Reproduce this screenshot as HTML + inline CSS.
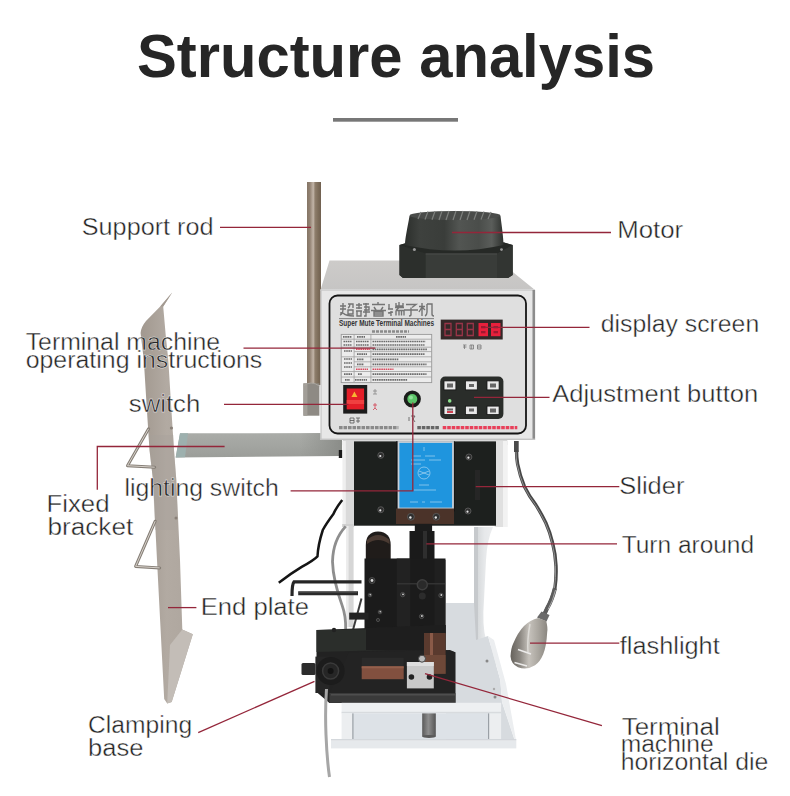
<!DOCTYPE html>
<html><head><meta charset="utf-8"><style>
html,body{margin:0;padding:0;background:#fff;width:790px;height:796px;overflow:hidden}
svg{display:block}
.t{font-family:"Liberation Sans",sans-serif;font-size:23px;fill:#262626;stroke:#fff;stroke-width:0.45px;stroke-opacity:0.9}
.ln{stroke:#94263a;stroke-width:1.3;fill:none}
.cj{fill:none;stroke:#747474;stroke-width:1.4}
.sm{fill:none;stroke:#555;stroke-width:0.8}
</style></head><body>
<svg width="790" height="796" viewBox="0 0 790 796">
<defs>
<linearGradient id="rod" x1="0" x2="1" y1="0" y2="0">
<stop offset="0" stop-color="#857565"/><stop offset="0.2" stop-color="#918172"/><stop offset="0.45" stop-color="#c2b5a8"/><stop offset="0.58" stop-color="#8e7e6c"/><stop offset="0.8" stop-color="#7d6d5a"/><stop offset="1" stop-color="#706050"/>
</linearGradient>
<linearGradient id="motor" x1="0" x2="1" y1="0" y2="0">
<stop offset="0" stop-color="#2c2f2c"/><stop offset="0.15" stop-color="#3e413e"/><stop offset="0.4" stop-color="#3a3d3a"/><stop offset="0.55" stop-color="#525552"/><stop offset="0.75" stop-color="#4a4d4a"/><stop offset="0.88" stop-color="#5a5d5a"/><stop offset="1" stop-color="#2e312e"/>
</linearGradient>
<linearGradient id="plate" x1="0" x2="1" y1="0" y2="0">
<stop offset="0" stop-color="#a1988f"/><stop offset="0.5" stop-color="#b2aaa2"/><stop offset="1" stop-color="#aea69e"/>
</linearGradient>
<linearGradient id="bar" x1="0" x2="0" y1="0" y2="1">
<stop offset="0" stop-color="#aaaca8"/><stop offset="0.5" stop-color="#a3a5a1"/><stop offset="1" stop-color="#9b9d99"/>
</linearGradient>
<linearGradient id="bardark" x1="0" x2="1" y1="0" y2="0"><stop offset="0" stop-color="#8e908c" stop-opacity="0"/><stop offset="1" stop-color="#8a8c88" stop-opacity="1"/></linearGradient>
<linearGradient id="lamp" x1="0" x2="1" y1="0" y2="0">
<stop offset="0" stop-color="#66625c"/><stop offset="0.25" stop-color="#8a8680"/><stop offset="0.5" stop-color="#c6c2bc"/><stop offset="0.75" stop-color="#aaa69f"/><stop offset="1" stop-color="#8a8680"/>
</linearGradient>
<linearGradient id="post" x1="0" x2="1" y1="0" y2="0">
<stop offset="0" stop-color="#5a5a5a"/><stop offset="0.45" stop-color="#8e8e8e"/><stop offset="1" stop-color="#555"/>
</linearGradient>
<linearGradient id="boxtop" x1="0" x2="0" y1="0" y2="1">
<stop offset="0" stop-color="#cdcbc9"/><stop offset="1" stop-color="#c6c5c4"/>
</linearGradient>
<linearGradient id="rcol" x1="0" x2="1" y1="0" y2="0">
<stop offset="0" stop-color="#cfd2d4"/><stop offset="0.4" stop-color="#e6e8ea"/><stop offset="1" stop-color="#f0f1f2"/>
</linearGradient>
</defs>
<rect width="790" height="796" fill="#fff"/>

<!-- Title -->
<text x="137" y="77" style="font-family:'Liberation Sans',sans-serif;font-weight:bold;font-size:62px;fill:#262626" textLength="518" lengthAdjust="spacingAndGlyphs">Structure analysis</text>
<rect x="333" y="118" width="125" height="3.7" fill="#777"/>

<!-- ===== MACHINE ===== -->
<g id="machine">
<!-- support rod -->
<rect x="307" y="182" width="14" height="203" fill="url(#rod)"/>
<rect x="303.4" y="383.4" width="16" height="32.3" fill="#8e8a84"/>
<rect x="303.4" y="383.4" width="4" height="32.3" fill="#a29e98"/>
<path d="M303.4,386 Q311,380 319.4,386" fill="none" stroke="#a8a49e" stroke-width="1"/>

<!-- fixed bracket bar -->
<polygon points="180,433.3 342,433 342,456 175.7,457.5" fill="url(#bar)"/>
<polygon points="180,433.3 188,433.3 185,457.3 175.7,457.5" fill="#9db0ae"/>
<rect x="300" y="433" width="42" height="23" fill="url(#bardark)"/>
<rect x="338.8" y="450" width="3.4" height="8" fill="#1a1a1a"/>

<!-- end plate -->
<path d="M140.6,333 Q141,327 146,321 L160.2,306.6 L172.2,292.5 L163.2,306.6 L165.7,335 L168.3,360 L171.4,410 L174,450 L176.3,480 L180,560 L182.3,629.6 L192.8,634.2 L171.7,702 L167.2,703.4 L164.2,699 L157,560 L153,480 L149.5,450 L146.9,410 L143.8,360 Z" fill="url(#plate)"/>
<polygon points="148.8,435 173.3,435 174,450 176.3,480 178,530 155,530 153,480 149.5,450" fill="#a7a19b" opacity="0.35"/>
<polygon points="182.3,629.6 192.8,634.2 171.7,702 167.2,703.4 170,645" fill="#c3bdb7"/>
<polygon points="172.2,292.5 163.2,306.6 160.2,306.6" fill="#a39a91"/>
<circle cx="171.4" cy="428" r="1.6" fill="#8a8078"/>
<circle cx="176" cy="518" r="1.5" fill="#8a8078"/>
<!-- wire handles -->
<polyline points="148.6,428.8 127.5,465.7 154.7,467.2" fill="none" stroke="#857e76" stroke-width="3" stroke-linejoin="round" stroke-linecap="round"/>
<polyline points="148.6,428.8 127.5,465.7 154.7,467.2" fill="none" stroke="#d6d0c9" stroke-width="1" stroke-linejoin="round"/>
<polyline points="155.2,521.2 135.6,566.4 159.7,567.9" fill="none" stroke="#857e76" stroke-width="3" stroke-linejoin="round" stroke-linecap="round"/>
<polyline points="155.2,521.2 135.6,566.4 159.7,567.9" fill="none" stroke="#d6d0c9" stroke-width="1" stroke-linejoin="round"/>

<!-- box top & front -->
<polygon points="329.5,260.5 500,260.5 513.4,272.4 535,290 320.5,290" fill="url(#boxtop)"/>
<rect x="320.5" y="289.5" width="214.5" height="150.5" fill="#e7e7e7"/>
<rect x="320.5" y="289.5" width="214.5" height="1.5" fill="#d2d2d2"/>
<rect x="532.5" y="290" width="2.6" height="150" fill="#8c8c8c"/>
<rect x="320.5" y="290" width="1.2" height="150" fill="#c8c8c8"/>
<rect x="320.5" y="438.6" width="214.5" height="1.4" fill="#c4c4c4"/>
<rect x="329.5" y="295.5" width="196.5" height="138" rx="8" fill="#dfdfdf" stroke="#151515" stroke-width="1.8"/>

<!-- motor -->
<polygon points="399.5,245 408,242.5 504,242.5 512.7,245 512.7,275 508,278 403,278 399.5,275" fill="#2a2d2a"/>
<polygon points="399.5,245 408,242.5 504,242.5 512.7,245 497,253.5 425.6,253.5" fill="#262926"/>
<polygon points="399.5,245 425.6,253.5 425.6,278 403,278 399.5,275" fill="#2c2f2c"/>
<rect x="425.6" y="253.5" width="71.4" height="24.5" fill="#393c39"/>
<rect x="425.6" y="253.5" width="71.4" height="1" fill="#4a4d4a"/>
<polygon points="497,253.5 512.7,245 512.7,275 508,278 497,278" fill="#323532"/>
<path d="M409.5,216 C407.5,228 405,238 405,245 Q455,256 503.5,245 C503.5,238 502,228 500.5,216 Z" fill="url(#motor)"/>
<ellipse cx="455" cy="215.5" rx="45.5" ry="4.6" fill="#4a4c4a"/>
<g stroke="#7e807e" stroke-width="1.2">
<line x1="418" y1="219" x2="421" y2="212"/><line x1="425" y1="219.5" x2="428" y2="211.5"/><line x1="432" y1="219.8" x2="435" y2="211.3"/><line x1="439" y1="220" x2="442" y2="211"/><line x1="446" y1="220" x2="449" y2="211"/><line x1="453" y1="220" x2="456" y2="211"/><line x1="460" y1="220" x2="463" y2="211"/><line x1="467" y1="220" x2="470" y2="211"/><line x1="474" y1="219.8" x2="477" y2="211.3"/><line x1="481" y1="219.5" x2="484" y2="211.5"/><line x1="488" y1="219" x2="491" y2="212"/>
</g>
<circle cx="414.4" cy="249.6" r="1.5" fill="#9a9a9a"/><circle cx="501.5" cy="249.6" r="1.4" fill="#9a9a9a"/>

<!-- panel title (chinese-like strokes) -->
<g class="cj">
<path d="M340,306 h6 M343,303 v6 M340,309 h6 M341,312 v3 M343,309 q0,5 -3,6 M343,313 q3,3 11,3 M348,304 h5 v4 M350,304 q0,3 -2,4 M348,310 h5 v4 h-5 z"/>
<path d="M356,305 h6 M356,308 h6 M356,311 h6 M359,303 v6 M357,311 v5 h4 v-5 M363,304 h6 M364,307 h5 v3 h-5 M366,303 v13 l-2,0 M363,312 h7"/>
<path d="M378,302 v2 M372,304.5 h13 M374,307 l2,3 M383,307 l-2,3 M371,310.5 h15 M374,312 h9 v4 h-9 z M374,314 h9"/>
<path d="M389,304 v5 M388,309 h5 M391,311 v5 M388,313 l5,-1 M396,303 v3 h7 v-3 M399,302 v4 M395,307.5 h9 M399,307.5 l-3,3 M396,310.5 v5 M396,310.5 h8 v5 M399,310.5 v5 M401.5,310.5 v5"/>
<path d="M406,304.5 h10 l-4,3 M411,307.5 v7 q0,1.5 -2,1.5 M404,310 h14"/>
<path d="M422,303 v13 M419,306.5 h6 M422,307 l-3,5 M422,307 l3,3 M427,304 h5 v10 q0,2 2,2 M427,304 v8 q0,3 -2,4"/>
</g>
<text x="339" y="325.8" style="font-family:'Liberation Sans',sans-serif;font-size:8.5px;font-weight:bold;fill:#333" textLength="95" lengthAdjust="spacingAndGlyphs">Super Mute Terminal Machines</text>
<rect x="339" y="318.3" width="95" height="0.8" fill="#666"/>

<!-- table -->
<line x1="372" y1="331.5" x2="409" y2="331.5" stroke="#8a8a8a" stroke-width="2.4" stroke-dasharray="3 1"/>
<rect x="341.2" y="334.4" width="90.5" height="48.2" fill="#ececec" stroke="#999" stroke-width="0.9"/>
<g stroke="#a0a0a0" stroke-width="0.8">
<line x1="354.1" y1="334.4" x2="354.1" y2="382.6"/><line x1="370.9" y1="334.4" x2="370.9" y2="382.6"/>
<line x1="341.2" y1="339.2" x2="431.7" y2="339.2"/><line x1="341.2" y1="347.2" x2="431.7" y2="347.2"/><line x1="354.1" y1="351.6" x2="431.7" y2="351.6"/><line x1="341.2" y1="356.8" x2="431.7" y2="356.8"/><line x1="354.1" y1="361.8" x2="431.7" y2="361.8"/><line x1="354.1" y1="366.8" x2="431.7" y2="366.8"/><line x1="341.2" y1="371.5" x2="431.7" y2="371.5"/><line x1="341.2" y1="377" x2="431.7" y2="377"/>
</g>
<g stroke="#6a6a6a" stroke-width="1.7" stroke-dasharray="1.6 0.6" fill="none">
<path d="M343,336.8 h9 M357,336.8 h8 M396,336.8 h10"/>
<path d="M343.5,341.5 h8 M343.5,345 h8 M356,341.5 h13 M356,345 h13 M372.5,341.5 h53 M372.5,345 h52"/>
<path d="M344,351 h8 M372.5,349.3 h55 M357,354.2 h10 M372.5,354.2 h52"/>
<path d="M344,359 h8 M344,363 h8 M344,367 h8 M357,359.3 h7 M372.5,359.3 h26 M357,364.3 h7 M372.5,364.3 h54"/>
<path d="M344,374.2 h8 M358,374.2 h4 M372.5,374.2 h54"/>
<path d="M345,379.8 h5 M355,379.8 h12 M372.5,379.8 h35"/>
</g>
<g stroke="#d84a5e" stroke-width="1.6" stroke-dasharray="1.6 0.6" fill="none">
<path d="M356,349.3 h14 M356,369.2 h12 M372.5,369.2 h21"/>
</g>

<!-- switch -->
<rect x="343.2" y="385" width="24" height="28.6" fill="#1c1c1c"/>
<rect x="346.7" y="388.5" width="17.4" height="20.9" fill="#e31e28"/>
<rect x="346.7" y="400" width="17.4" height="4" fill="#f04040"/>
<polygon points="354.4,391.5 357.4,397 351.4,397" fill="#f7b432"/>
<g class="sm" stroke="#444"><path d="M350,418 h4 v5 h-4 z M350,420.5 h4 M356,418 h4 M358,418 v5 M356,421 h4"/></g>
<g stroke="#888" stroke-width="0.8" fill="none"><path d="M373,391 h4 M375,389 v5 M373,394 h4"/></g>
<g stroke="#d04050" stroke-width="0.8" fill="none"><path d="M373,405 h4 M375,403 v5 l-2,2 M375,408 l2,2"/></g>

<!-- green button -->
<circle cx="412.3" cy="399" r="8.6" fill="#1a1c1a"/>
<circle cx="412.3" cy="399" r="5" fill="#5cc468"/>
<circle cx="411" cy="397.5" r="2" fill="#8ee098"/>
<g class="sm" stroke="#555"><path d="M409,417 v4 M411,416 h4 l-2,3 l2,3"/></g>

<!-- display -->
<rect x="440.7" y="319.6" width="62" height="19.9" fill="#332828"/>
<g fill="none" stroke="#9a3448" stroke-width="1.3">
<path d="M445,323.5 h6 v12 h-6 z M445,329.5 h6"/>
<path d="M456.3,323.5 h6 v12 h-6 z M456.3,329.5 h6"/>
<path d="M467.3,323.5 h6 v12 h-6 z M467.3,329.5 h6"/>
</g>
<rect x="478.5" y="323" width="9.5" height="13.2" fill="#e8203c"/>
<rect x="491" y="323" width="9.5" height="13.2" fill="#e8203c"/>
<g fill="#a01830"><rect x="481" y="326" width="4.5" height="2.3"/><rect x="481" y="331" width="4.5" height="2.3"/><rect x="493.5" y="326" width="4.5" height="2.3"/><rect x="493.5" y="331" width="4.5" height="2.3"/></g>
<g fill="none" stroke="#777" stroke-width="0.8"><path d="M463,345 h3.5 M464.5,345 v4 M463,347 h3.5 M470,345 h3.5 v4 h-3.5 z M471.7,345 v4 M477.5,345 h3.5 v4 h-3.5 z M477.5,347 h3.5"/></g>

<!-- button pad -->
<rect x="440.2" y="376.6" width="63.2" height="42.3" rx="5" fill="#2a2d2a"/>
<g fill="#e9e9e9" stroke="#151515" stroke-width="0.8">
<rect x="444" y="380.9" width="11.9" height="9"/><rect x="465.4" y="380.9" width="11.9" height="9"/><rect x="487" y="380.9" width="12.1" height="9"/>
<rect x="444" y="406.1" width="11.9" height="8.5"/><rect x="465.4" y="406.1" width="11.9" height="8.5"/><rect x="487" y="406.1" width="12.1" height="8.5"/>
</g>
<g fill="#666"><rect x="447" y="383.5" width="6" height="4"/><rect x="469" y="384" width="5" height="3"/><rect x="490" y="383.5" width="6" height="4"/><rect x="447" y="408.5" width="6" height="2"/><rect x="469" y="408.5" width="5" height="3"/><rect x="490" y="408.5" width="6" height="4"/></g>
<rect x="447" y="411" width="6" height="2" fill="#d04050"/>
<circle cx="449.7" cy="400.9" r="1.8" fill="#8ee08e"/>

<!-- bottom panel text -->
<g fill="none" stroke-width="3.2">
<line x1="339" y1="427.7" x2="398.4" y2="427.7" stroke="#8a8a8a" stroke-dasharray="3.6 0.9"/>
<line x1="417.3" y1="427.7" x2="439" y2="427.7" stroke="#666" stroke-dasharray="3.6 0.9"/>
<line x1="442.7" y1="427.7" x2="517.3" y2="427.7" stroke="#e8405a" stroke-dasharray="3.6 0.9"/>
</g>
<!-- lower frame under box -->
<rect x="342.8" y="440" width="164.5" height="5" fill="#d8d8d8"/>
<rect x="342.8" y="441" width="11.4" height="86" fill="#dadada"/>
<rect x="342.8" y="441" width="3" height="86" fill="#efefef"/>
<rect x="494.7" y="441" width="12.6" height="86" fill="#e0e0e0"/>
<rect x="503" y="441" width="4.3" height="86" fill="#f2f2f2"/>
<rect x="354" y="441.4" width="142" height="84.3" fill="#1d201e"/>
<rect x="396" y="441.4" width="59" height="70" fill="#151515"/>
<rect x="398.5" y="442" width="54.5" height="66.5" fill="#1f95de" stroke="#c8d0d8" stroke-width="1.8"/>
<g fill="none" stroke="#cfe6f8" stroke-width="0.7" opacity="0.8">
<circle cx="424" cy="473" r="6"/><path d="M419,471 l10,4 M419,475 l10,-4"/>
<path d="M424,447 v4 M413,456 h8 M425,456 h10 M411,460 h14 M429,460 h12 M411,464 h10 M419,485 h10 M414,490 h22 M410,502 h8 M422,502 h3 M430,502 h12"/>
</g>
<rect x="396" y="508.5" width="58" height="15.5" fill="#4b3329"/>
<g fill="#2e2e2e" stroke="#5a5a5a" stroke-width="0.9">
<circle cx="380.8" cy="455.3" r="3"/><circle cx="380.8" cy="509.7" r="3"/><circle cx="468.9" cy="457" r="3"/><circle cx="468" cy="511" r="3"/><circle cx="410.9" cy="516.8" r="3.4"/><circle cx="436.3" cy="516.8" r="3.4"/>
</g>
<g fill="#e8e8e8">
<circle cx="380.3" cy="456" r="1.1"/><circle cx="380.3" cy="510.4" r="1.1"/><circle cx="468.4" cy="457.7" r="1.1"/><circle cx="467.5" cy="511.7" r="1.1"/><circle cx="410.4" cy="517.5" r="1.2"/><circle cx="435.8" cy="517.5" r="1.2"/>
</g>
<rect x="475" y="470" width="5" height="30" fill="#262626"/>
</g>
<g id="lower">
<!-- left frame column -->
<rect x="342.2" y="524" width="11.4" height="3" fill="#d0d0d0"/>
<rect x="346.6" y="526" width="7" height="101" fill="#d6d6d6"/>
<rect x="346.6" y="526" width="2" height="101" fill="#ececec"/>
<!-- right C column -->
<path d="M474,527 L493,527 Q487,540 486,560 L484,600 Q482,625 486,640 L496,652 L500,664 L474,664 Z" fill="url(#rcol)"/>
<path d="M474,527 L478,527 L478,664 L474,664 Z" fill="#c6c9cc"/>
<!-- big base plate -->
<path d="M446,603 L474,603 L476,640 L488,636 L500.3,680 L502,702 L514.3,739 L516,748 L446,748 Z" fill="#d7dbdf"/>
<path d="M488,636 L494,640 L506,684 L516,740 L514.3,739 L502,702 L500.3,680 Z" fill="#eceef0"/>
<circle cx="487" cy="661" r="1.5" fill="#888"/><circle cx="495" cy="697" r="1.5" fill="#888"/><circle cx="494" cy="689" r="1.2" fill="#aaa"/>
<!-- ram -->
<rect x="414.8" y="523.8" width="17.3" height="10" fill="#1c1c1c"/>
<rect x="409.5" y="531" width="25" height="31" fill="#1a1a1a"/>
<rect x="423" y="531" width="4" height="31" fill="#2e2e2e"/>
<!-- reel -->
<path d="M365.8,562 L365.8,545 Q365.8,532 378,531.5 Q390.7,532 390.7,545 L390.7,562 Z" fill="#201c1a"/>
<path d="M367,540 Q378,530 389.5,540 L389.5,544 Q378,536 367,544 Z" fill="#4a3a32"/>
<!-- main block -->
<rect x="364.5" y="558.5" width="81" height="75" fill="#1b1b1b"/>
<rect x="396.7" y="558.5" width="13.6" height="75" fill="#222"/>
<rect x="434.4" y="560" width="11" height="73" fill="#202020"/>
<rect x="397" y="583" width="48" height="1.5" fill="#333"/>
<circle cx="422.3" cy="584.8" r="5" fill="#2a2a2a" stroke="#3e3e3e" stroke-width="1.5"/>
<circle cx="422.3" cy="596" r="3.5" fill="#2c2c2c"/>
<g fill="#2a2a2a" stroke="#555" stroke-width="0.8">
<circle cx="372" cy="580.5" r="3"/><circle cx="402.7" cy="594.6" r="2.2"/><circle cx="441" cy="595.4" r="2.2"/><circle cx="421.6" cy="616.4" r="2.2"/><circle cx="380" cy="612" r="1.8"/><circle cx="378" cy="620" r="1.6"/><circle cx="402.7" cy="632" r="1.6"/><circle cx="370" cy="595" r="1.8"/><circle cx="441" cy="632" r="1.8"/>
</g>
<g fill="#d8d8d8">
<circle cx="372" cy="580.5" r="1.4"/><circle cx="403" cy="594.3" r="0.9"/><circle cx="441.3" cy="595" r="0.9"/><circle cx="421.9" cy="616" r="0.9"/><circle cx="380.2" cy="611.8" r="0.8"/><circle cx="370.2" cy="594.8" r="0.8"/><circle cx="403" cy="631.7" r="0.7"/><circle cx="441.3" cy="631.7" r="0.7"/>
</g>
<!-- cables -->
<path d="M345.7,526.4 Q333,540 332.5,561.6 Q333,580 342.2,605.6 Q346,616 345.7,630" fill="none" stroke="#8e8e8e" stroke-width="2.8"/>
<path d="M342.2,500 Q336,508 333.4,514 Q326,524 322.8,530 Q318,545 317.5,556.3 Q314,560 301.7,566.9 Q290,574 278.8,582.7" fill="none" stroke="#151515" stroke-width="2.5"/>
<!-- rods -->
<path d="M361.5,581.8 L294,581.8 Q292,584 292,596" fill="none" stroke="#262626" stroke-width="3.2"/>
<line x1="298.2" y1="593.2" x2="358" y2="593.2" stroke="#2a2a2a" stroke-width="4"/>
<line x1="299" y1="592" x2="357" y2="592" stroke="#6a6a6a" stroke-width="0.8"/>
<line x1="361.5" y1="598.6" x2="351" y2="637.3" stroke="#3a3a3a" stroke-width="2"/>
<rect x="349.2" y="612.6" width="19.4" height="7" fill="#222"/>
<!-- clamping base -->
<polygon points="316.5,630 445.6,625 445.6,650 455.3,652.3 455.3,702.9 329.4,702.9 316.5,692" fill="#222"/>
<polygon points="316.5,630 390,629 390,650 316.5,652" fill="#2b2e2b"/>
<polygon points="348.8,652.3 450,650 455.3,652.3 455.3,702.9 329.4,702.9 329.4,693" fill="#232323"/>
<polygon points="366,628 445.6,625 445.6,650 366,650" fill="#1e1e1e"/>
<rect x="329.4" y="693" width="126" height="9.9" fill="#3a3a3a"/>
<rect x="331" y="694" width="124" height="1.5" fill="#4e4e4e"/>
<rect x="361.7" y="657.7" width="42" height="8.6" fill="#2a2a2a"/>
<rect x="361.7" y="666.3" width="42" height="12.9" fill="#82503f"/>
<rect x="361.7" y="666.3" width="42" height="2" fill="#94604c"/>
<rect x="424" y="633" width="21.6" height="40.8" fill="#5a3a2e"/>
<rect x="430" y="633" width="3" height="22" fill="#8a5a48"/>
<rect x="424" y="655" width="21.6" height="18.8" fill="#6e4838"/>
<rect x="406.9" y="662" width="26.9" height="26.4" fill="#c9c9c9"/>
<rect x="406.9" y="662" width="26.9" height="4" fill="#dedede"/>
<circle cx="422" cy="658.7" r="3.5" fill="#bbb" stroke="#444" stroke-width="1"/>
<circle cx="411.4" cy="677" r="2.8" fill="#222"/><circle cx="429.5" cy="677" r="2.8" fill="#222"/>
<rect x="301.5" y="663" width="14" height="12" rx="1.5" fill="#2c2c2c"/>
<rect x="315.4" y="656.6" width="14" height="36.4" fill="#262626"/>
<circle cx="330.6" cy="671" r="14" fill="#1c1c1c"/>
<circle cx="330.6" cy="671" r="8" fill="#262626" stroke="#3a3a3a" stroke-width="1.5"/>
<circle cx="330.6" cy="671" r="3" fill="#131313"/>
<circle cx="334" cy="630" r="2.2" fill="#222"/>
<!-- white base -->
<rect x="341.6" y="702.8" width="159.5" height="10.6" fill="#eef0f2"/>
<rect x="341.6" y="711.8" width="159.5" height="1.6" fill="#d8dbde"/>
<rect x="352.3" y="713.4" width="136.7" height="25.8" fill="#dde2e7"/>
<rect x="341.6" y="713.4" width="10.7" height="25.8" fill="#eceef0"/>
<rect x="489" y="713.4" width="12.1" height="25.8" fill="#eceef0"/>
<rect x="352.3" y="713.4" width="1.2" height="25.8" fill="#9aa0a6"/>
<rect x="488" y="713.4" width="1.2" height="25.8" fill="#9aa0a6"/>
<rect x="422.2" y="713.4" width="13.6" height="23" fill="url(#post)"/>
<ellipse cx="429" cy="736.4" rx="6.8" ry="1.5" fill="#5a5a5a"/>
<rect x="331" y="739.2" width="185.3" height="9.2" fill="#e6e9ec"/>
<rect x="331" y="739.2" width="185.3" height="1" fill="#cfd3d7"/>
<path d="M326.5,689 Q325,710 326,735 Q327,760 329.5,777" fill="none" stroke="#a6a6a6" stroke-width="3"/>
<!-- lamp -->
<rect x="514" y="441" width="4.7" height="11" fill="#4a4a4a"/>
<path d="M516.5,450 Q516.5,458 517.6,464 Q520,476 524.4,486.5 Q529,496 535.7,504.6 Q541,513 545.8,522.7 Q550,532 552.6,543 Q555.5,554 556,565.6 Q556.5,578 554.9,588.2 Q552,600 547,608.5 Q545,613 543,617" fill="none" stroke="#474747" stroke-width="3.4"/>
<path d="M516,452 Q516,458 517,464 Q519.5,476 524,486.5 Q528.5,496 535.2,504.6 Q540.5,513 545.3,522.7 Q549.5,532 552.1,543 Q555,554 555.5,565.6 Q556,578 554.4,588.2" fill="none" stroke="#9a9a9a" stroke-width="0.9"/>
<path d="M554.9,588.2 Q552,600 547,608.5 Q545,613 543,617" fill="none" stroke="#5c5c5c" stroke-width="4.2"/>
<path d="M555.5,590 Q553,601 548,609.5" fill="none" stroke="#b0b0b0" stroke-width="0.9"/>
<polygon points="537,617.5 546.5,621.5 549.5,615 541.5,611.5" fill="#6a6a6a"/>
<path d="M538.2,618 L546.2,621 Q548,628 547.2,632 Q546.5,646 543.2,654.3 Q540,662 535,665.3 Q527,670.5 518,667.3 Q511,664 510.5,656.3 Q511,648 513,644 Q518,632 524,626 Q530,620 538.2,618 Z" fill="url(#lamp)"/>
<path d="M530,624 Q527,640 528,652" fill="none" stroke="#e4e2de" stroke-width="1.5" opacity="0.8"/>
<path d="M518,649.5 L531,654" fill="none" stroke="#ecebea" stroke-width="1.4"/>
<path d="M514.5,662.5 L527,666" fill="none" stroke="#ecebea" stroke-width="1.4"/>
</g>

<!-- ===== LEADER LINES ===== -->
<g class="ln">
<line x1="220" y1="227.4" x2="311" y2="227.4"/>
<line x1="452" y1="232.5" x2="611" y2="232.5"/>
<line x1="243.5" y1="348.2" x2="375.3" y2="348.2"/>
<line x1="485" y1="327.3" x2="589.5" y2="327.3"/>
<line x1="224" y1="404.4" x2="348.5" y2="404.4"/>
<line x1="474" y1="397.4" x2="549.5" y2="397.4"/>
<polyline points="97.3,489.7 97.3,446.5 224.6,446.5"/>
<polyline points="290.6,490.8 412.8,490.8 412.8,402.4"/>
<line x1="475.7" y1="486.6" x2="619.3" y2="486.6"/>
<line x1="426.3" y1="543.8" x2="617" y2="543.8"/>
<line x1="168" y1="607.6" x2="196.4" y2="607.6"/>
<line x1="530" y1="643.1" x2="619.3" y2="643.1"/>
<line x1="198.2" y1="732.7" x2="314.5" y2="681.3"/>
<line x1="425" y1="673.7" x2="601.9" y2="725.7"/>
</g>

<!-- ===== LABELS ===== -->
<text class="t" x="81.8" y="235.2" textLength="131.7" lengthAdjust="spacingAndGlyphs">Support rod</text>
<text class="t" x="617.2" y="237.6" textLength="66.0" lengthAdjust="spacingAndGlyphs">Motor</text>
<text class="t" x="25.7" y="350.3" textLength="194.4" lengthAdjust="spacingAndGlyphs">Terminal machine</text>
<text class="t" x="25.7" y="367.7" textLength="236.6" lengthAdjust="spacingAndGlyphs">operating instructions</text>
<text class="t" x="600.8" y="331.9" textLength="158.4" lengthAdjust="spacingAndGlyphs">display screen</text>
<text class="t" x="128.8" y="411.5" textLength="71.5" lengthAdjust="spacingAndGlyphs">switch</text>
<text class="t" x="552.2" y="401.8" textLength="206.0" lengthAdjust="spacingAndGlyphs">Adjustment button</text>
<text class="t" x="46.4" y="511.6" textLength="63.1" lengthAdjust="spacingAndGlyphs">Fixed</text>
<text class="t" x="47.4" y="535" textLength="85.9" lengthAdjust="spacingAndGlyphs">bracket</text>
<text class="t" x="124.4" y="496" textLength="154.4" lengthAdjust="spacingAndGlyphs">lighting switch</text>
<text class="t" x="619.3" y="494" textLength="65.1" lengthAdjust="spacingAndGlyphs">Slider</text>
<text class="t" x="621.7" y="553.3" textLength="132.4" lengthAdjust="spacingAndGlyphs">Turn around</text>
<text class="t" x="200.7" y="615.2" textLength="108.3" lengthAdjust="spacingAndGlyphs">End plate</text>
<text class="t" x="619.8" y="654" textLength="99.9" lengthAdjust="spacingAndGlyphs">flashlight</text>
<text class="t" x="88.1" y="732.7" textLength="104.0" lengthAdjust="spacingAndGlyphs">Clamping</text>
<text class="t" x="88.1" y="755.7" textLength="55.4" lengthAdjust="spacingAndGlyphs">base</text>
<text class="t" x="621.7" y="734.7" textLength="98.0" lengthAdjust="spacingAndGlyphs">Terminal</text>
<text class="t" x="620.7" y="752.3" textLength="93.0" lengthAdjust="spacingAndGlyphs">machine</text>
<text class="t" x="620.7" y="770.4" textLength="147.7" lengthAdjust="spacingAndGlyphs">horizontal die</text>
</svg>
</body></html>
